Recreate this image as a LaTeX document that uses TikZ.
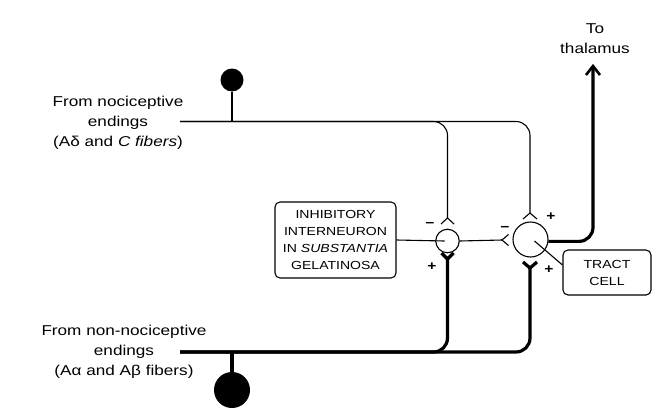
\documentclass[tikz,border=0pt]{standalone}
\usepackage{fontspec}
\setmainfont{Liberation Sans}[FakeStretch=1.2]
\begin{document}
\begin{tikzpicture}[x=1pt,y=-1pt,
  thinline/.style={line width=1.1pt},
  thickline/.style={line width=3.2pt},
  lbl/.style={align=center, font=\fontsize{14.3}{20}\selectfont, inner sep=0pt},
  boxtxt/.style={draw, line width=1.1pt, rounded corners=5pt, align=center, font=\fontsize{11.7}{17}\selectfont, inner sep=0pt},
  cell/.style={circle, draw, line width=1.1pt, inner sep=0pt},
  ball/.style={circle, fill=black, inner sep=0pt},
  sign/.style={font=\bfseries\fontsize{13}{13}\selectfont, inner sep=0pt}]
\useasboundingbox (0,0) rectangle (653,407);

% labels
\node[lbl] (noci) at (118,123) {From nociceptive\\endings\\(Aδ and \textit{C fibers})};
\node[lbl] (nonnoci) at (124,352) {From non-nociceptive\\endings\\(Aα and Aβ fibers)};
\node[lbl] (thal) at (595,39) {To\\thalamus};

% boxes
\node[boxtxt, minimum width=121pt, minimum height=76pt] (inhib) at (335.5,240)
  {INHIBITORY\\INTERNEURON\\IN \textit{SUBSTANTIA}\\GELATINOSA};
\node[boxtxt, minimum width=88pt, minimum height=45pt] (tbox) at (607,272.5) {TRACT\\CELL};

% cells
\node[cell, minimum size=23.5pt] (inter) at (447.5,241) {};
\node[cell, minimum size=35pt] (tract) at (530.5,239.5) {};

% endings (balls)
\node[ball, minimum size=23pt] (ballA) at (232,80) {};
\node[ball, minimum size=36pt] (ballB) at (232,390) {};

% coordinates
\coordinate (n0) at (180,121.5);
\coordinate (m0) at (180,352);
\coordinate (synA) at (447.5,218);
\coordinate (synB) at (530,213);
\coordinate (synC) at (502,240);
\coordinate (synD) at (447.5,259);
\coordinate (synE) at (530,268);
\coordinate (thaltip) at (593,66);

% nociceptive fiber (thin)
\draw[thinline] (ballA) -- (ballA |- n0);
\draw[thinline, rounded corners=14pt] (n0) -- (synA |- n0) -- (synA);
\draw[thinline, rounded corners=14pt] (n0) -- (synB |- n0) -- (synB);
\draw[thinline] ([shift={(-6.5,6)}]synA) -- (synA) -- ([shift={(6.5,6)}]synA);
\draw[thinline] ([shift={(-7,6)}]synB) -- (synB) -- ([shift={(7,6)}]synB);

% interneuron
\draw[thinline] (inhib.east) -- ([xshift=-3pt]inter.center);
\draw[thinline] (inter.east) -- (synC);
\draw[thinline] ([shift={(6.5,-5.5)}]synC) -- (synC) -- ([shift={(6.5,5.5)}]synC);

% tract cell pointer
\draw[thinline] ([shift={(4,1.5)}]tract.center) -- (tbox.north west |- 0,265);

% non-nociceptive fiber (thick)
\draw[thickline] (ballB) -- (ballB |- m0);
\draw[thickline, rounded corners=14pt] (m0) -- (synD |- m0) -- (synD);
\draw[thickline, rounded corners=14pt] (m0) -- (synE |- m0) -- (synE);
\draw[thickline, line join=round] ([shift={(-6,-6)}]synD) -- (synD) -- ([shift={(6,-6)}]synD);
\draw[thickline, line join=round] ([shift={(-7,-6)}]synE) -- (synE) -- ([shift={(7,-6)}]synE);

% to thalamus
\draw[thickline, rounded corners=14pt] (tract.-6) -- (thaltip |- tract.-6) -- (thaltip);
\draw[line width=2.6pt, line join=miter] ([shift={(-7,9)}]thaltip) -- (thaltip) -- ([shift={(7,9)}]thaltip);

% signs
\node[sign] (s1) at (430,225) {−};
\node[sign] (s2) at (432,267) {+};
\node[sign] (s3) at (505,228.5) {−};
\node[sign] (s4) at (551,216.5) {+};
\node[sign] (s5) at (549,270) {+};
\end{tikzpicture}
\end{document}
